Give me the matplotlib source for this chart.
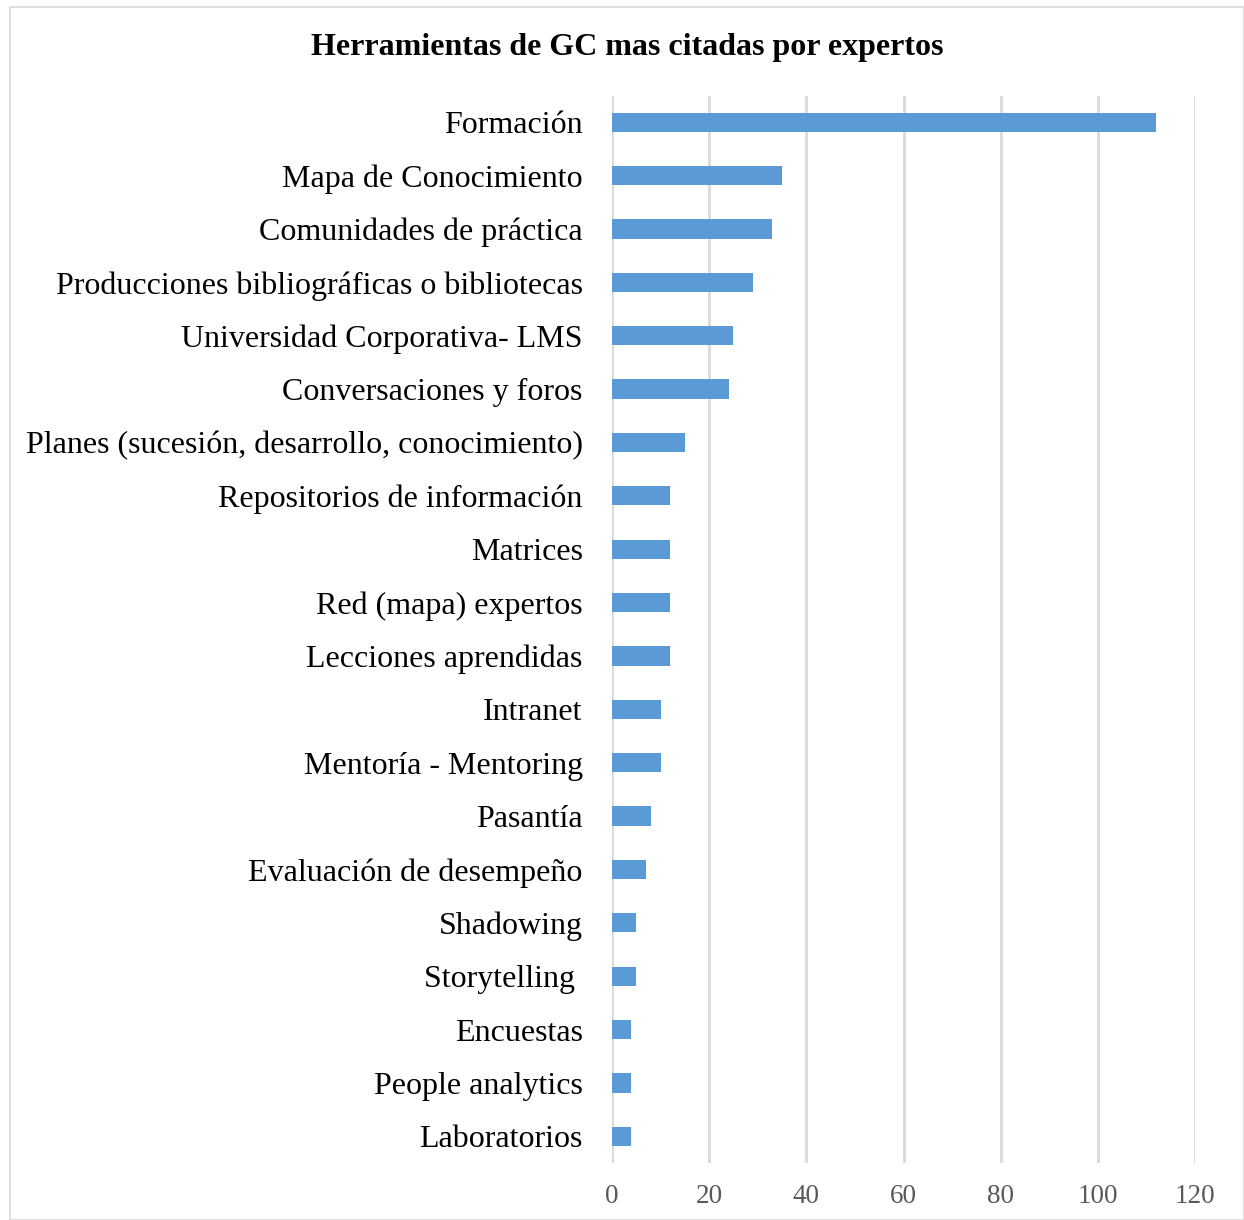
import matplotlib
matplotlib.use("Agg")
import matplotlib.pyplot as plt
from matplotlib.patches import Rectangle

categories = [
    "Formación",
    "Mapa de Conocimiento",
    "Comunidades de práctica",
    "Producciones bibliográficas o bibliotecas",
    "Universidad Corporativa- LMS",
    "Conversaciones y foros",
    "Planes (sucesión, desarrollo, conocimiento)",
    "Repositorios de información",
    "Matrices",
    "Red (mapa) expertos",
    "Lecciones aprendidas",
    "Intranet",
    "Mentoría - Mentoring",
    "Pasantía",
    "Evaluación de desempeño",
    "Shadowing",
    "Storytelling ",
    "Encuestas",
    "People analytics",
    "Laboratorios",
]
values = [112, 35, 33, 29, 25, 24, 15, 12, 12, 12, 12, 10, 10, 8, 7, 5, 5, 4, 4, 4]
xticks = [0, 20, 40, 60, 80, 100, 120]
title = "Herramientas de GC mas citadas por expertos"

plt.rcParams['font.family'] = ['Liberation Serif', 'DejaVu Serif']

W, H = 1244, 1220
fig = plt.figure(figsize=(W / 100, H / 100), dpi=100)
fig.patches.append(Rectangle((10 / W, 0), (W - 10) / W - 0.5 / W, (H - 7) / H,
                             transform=fig.transFigure, fill=False,
                             edgecolor='#d9d9d9', linewidth=1.2))

left, right, top, bottom = 612, 1195, 95.5, 1163
ax = fig.add_axes([left / W, 1 - bottom / H, (right - left) / W, (bottom - top) / H])

n = len(categories)
ypos = list(range(n))
ax.barh(ypos, values, height=0.36, color='#5B9BD5', zorder=3)
ax.set_ylim(n - 0.5, -0.5)
ax.set_xlim(0, 120)
ax.set_xticks(xticks)
ax.set_xticklabels([str(t) for t in xticks], fontsize=19.5, color='#595959')
ax.set_yticks(ypos)
ax.set_yticklabels(categories, fontsize=23, color='black')
ax.tick_params(axis='both', length=0)
ax.tick_params(axis='y', pad=21)
ax.tick_params(axis='x', pad=15)
ax.grid(axis='x', color='#d9d9d9', linewidth=2, zorder=0)
for s in ax.spines.values():
    s.set_visible(False)

fig.text(627 / W, 1 - 47 / H, title, ha='center', va='center',
         fontsize=23, fontweight='bold')

fig.savefig("out.png", dpi=100, facecolor='white')
